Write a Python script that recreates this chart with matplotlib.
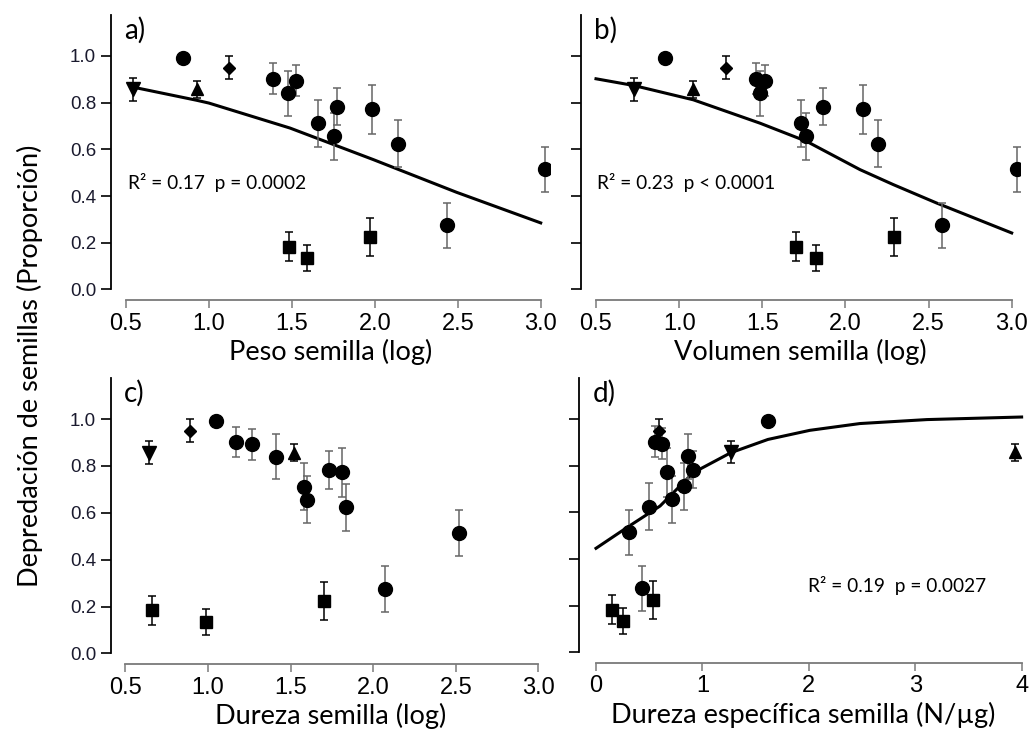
import matplotlib
matplotlib.use("Agg")
import matplotlib.pyplot as plt

# valores compartidos (proporcion de depredacion y error) por especie
sp_y = [0.857, 0.857, 0.950, 0.990, 0.902, 0.840, 0.893, 0.712, 0.655, 0.783, 0.772, 0.624, 0.275, 0.514, 0.184, 0.134, 0.224]
sp_err = [0.048, 0.037, 0.050, 0.0, 0.066, 0.096, 0.066, 0.10, 0.10, 0.08, 0.105, 0.10, 0.097, 0.097, 0.061, 0.056, 0.082]
sp_marker = ["v", "^", "D", "o", "o", "o", "o", "o", "o", "o", "o", "o", "o", "o", "s", "s", "s"]

# eje x de cada panel
peso = [0.544, 0.926, 1.119, 0.842, 1.388, 1.476, 1.523, 1.659, 1.754, 1.772, 1.985, 2.138, 2.437, 3.028, 1.485, 1.591, 1.973]
volumen = [0.729, 1.081, 1.282, 0.917, 1.462, 1.486, 1.514, 1.731, 1.763, 1.863, 2.104, 2.198, 2.581, 3.032, 1.705, 1.823, 2.294]
dureza = [0.645, 1.521, 0.892, 1.047, 1.168, 1.412, 1.267, 1.580, 1.600, 1.735, 1.812, 1.836, 2.074, 2.522, 0.660, 0.990, 1.701]
dureza_esp = [1.266, 3.935, 0.595, 1.616, 0.558, 0.868, 0.617, 0.827, 0.711, 0.915, 0.664, 0.498, 0.432, 0.310, 0.150, 0.251, 0.536]

# curvas ajustadas
fit_a_x = [0.544, 0.926, 1.0, 1.489, 1.991, 2.493, 3.0]
fit_a_y = [0.866, 0.81, 0.798, 0.691, 0.556, 0.416, 0.285]
fit_b_x = [0.5, 0.729, 1.085, 1.486, 1.767, 2.088, 2.288, 2.549, 3.0]
fit_b_y = [0.902, 0.873, 0.812, 0.712, 0.634, 0.513, 0.449, 0.37, 0.242]
fit_d_x = [0.0, 0.288, 0.602, 0.915, 1.266, 1.616, 2.01, 2.48, 3.11, 4.0]
fit_d_y = [0.446, 0.534, 0.627, 0.77, 0.855, 0.912, 0.951, 0.98, 0.997, 1.008]

stats_a = "R² = 0.17  p = 0.0002"
stats_b = "R² = 0.23  p < 0.0001"
stats_d = "R² = 0.19  p = 0.0027"

label_font = ["Lato", "DejaVu Sans"]
tick_font = ["Liberation Sans Narrow", "Liberation Sans", "DejaVu Sans"]

W, H = 1031, 734
fig = plt.figure(figsize=(W / 100, H / 100), dpi=100)


def px_axes(left, top, right, bottom):
    return fig.add_axes([left / W, 1 - bottom / H, (right - left) / W, (bottom - top) / H])


def panel(ax, xs, xlim, xb, xticks, xticklabels, letter, xlabel, show_y):
    for x, y, e, m in zip(xs, sp_y, sp_err, sp_marker):
        ms = {"o": 10, "s": 8.5, "v": 10, "^": 9, "D": 6}[m]
        ecol = "#666666" if m == "o" else "black"
        if e > 0:
            ax.errorbar(x, y, yerr=e, fmt="none", ecolor=ecol, elinewidth=1.1, capsize=3, capthick=1.1, zorder=2)
        ax.plot(x, y, marker=m, ms=ms, color="black", ls="none", zorder=3)
    ax.set_xlim(*xlim)
    ax.set_ylim(-0.045, 1.175)
    for s in ["top", "right"]:
        ax.spines[s].set_visible(False)
    ax.spines["left"].set_bounds(0, 1.175)
    ax.spines["bottom"].set_bounds(*xb)
    ax.spines["bottom"].set_color("#7a7a7a")
    ax.spines["left"].set_linewidth(1.3)
    ax.spines["bottom"].set_linewidth(1.3)
    ax.set_yticks([0.0, 0.2, 0.4, 0.6, 0.8, 1.0])
    ax.tick_params(axis="y", length=7, width=1.2, direction="out")
    ax.tick_params(axis="x", length=6, width=1.1, direction="out", color="#7a7a7a", pad=3)
    if show_y:
        ax.set_yticklabels(["0.0", "0.2", "0.4", "0.6", "0.8", "1.0"], fontsize=13.5, family=["Liberation Sans", "DejaVu Sans"], color="#1a1a2e")
    else:
        ax.set_yticklabels([])
    ax.set_xticks(xticks)
    ax.set_xticklabels(xticklabels, fontsize=17, family=tick_font)
    ax.set_xlabel(xlabel, fontsize=19.5, family=label_font, labelpad=3)
    ax.text(0.03, 0.995, letter, transform=ax.transAxes, fontsize=20, family=label_font, va="top", ha="left")


log_ticks = [0.5, 1.0, 1.5, 2.0, 2.5, 3.0]
log_labels = ["0.5", "1.0", "1.5", "2.0", "2.5", "3.0"]

ax_a = px_axes(110.7, 15, 550, 300)
panel(ax_a, peso, (0.408, 3.056), (0.5, 3.0), log_ticks, log_labels, "a)", "Peso semilla (log)", True)
ax_a.plot(fit_a_x, fit_a_y, color="black", lw=2.2, zorder=1)
ax_a.text(0.514, 0.456, stats_a, fontsize=13.8, family=label_font, va="center")

ax_b = px_axes(580.7, 15, 1020, 300)
panel(ax_b, volumen, (0.408, 3.05), (0.5, 3.0), log_ticks, log_labels, "b)", "Volumen semilla (log)", False)
ax_b.plot(fit_b_x, fit_b_y, color="black", lw=2.2, zorder=1)
ax_b.text(0.508, 0.456, stats_b, fontsize=13.8, family=label_font, va="center")

ax_c = px_axes(110.7, 378, 550, 664)
panel(ax_c, dureza, (0.412, 3.07), (0.5, 3.0), log_ticks, log_labels, "c)", "Dureza semilla (log)", True)

ax_d = px_axes(579.3, 378, 1028, 663)
panel(ax_d, dureza_esp, (-0.157, 4.06), (0, 4), [0, 1, 2, 3, 4], ["0", "1", "2", "3", "4"], "d)",
      "Dureza específica semilla (N/µg)", False)
ax_d.plot(fit_d_x, fit_d_y, color="black", lw=2.2, zorder=1)
ax_d.text(1.995, 0.288, stats_d, fontsize=13.8, family=label_font, va="center")

fig.text(30 / W, 1 - 366 / H, "Depredación de semillas (Proporción)", rotation=90, fontsize=19.5,
         family=label_font, ha="center", va="center")

fig.savefig("out.png", dpi=100)
